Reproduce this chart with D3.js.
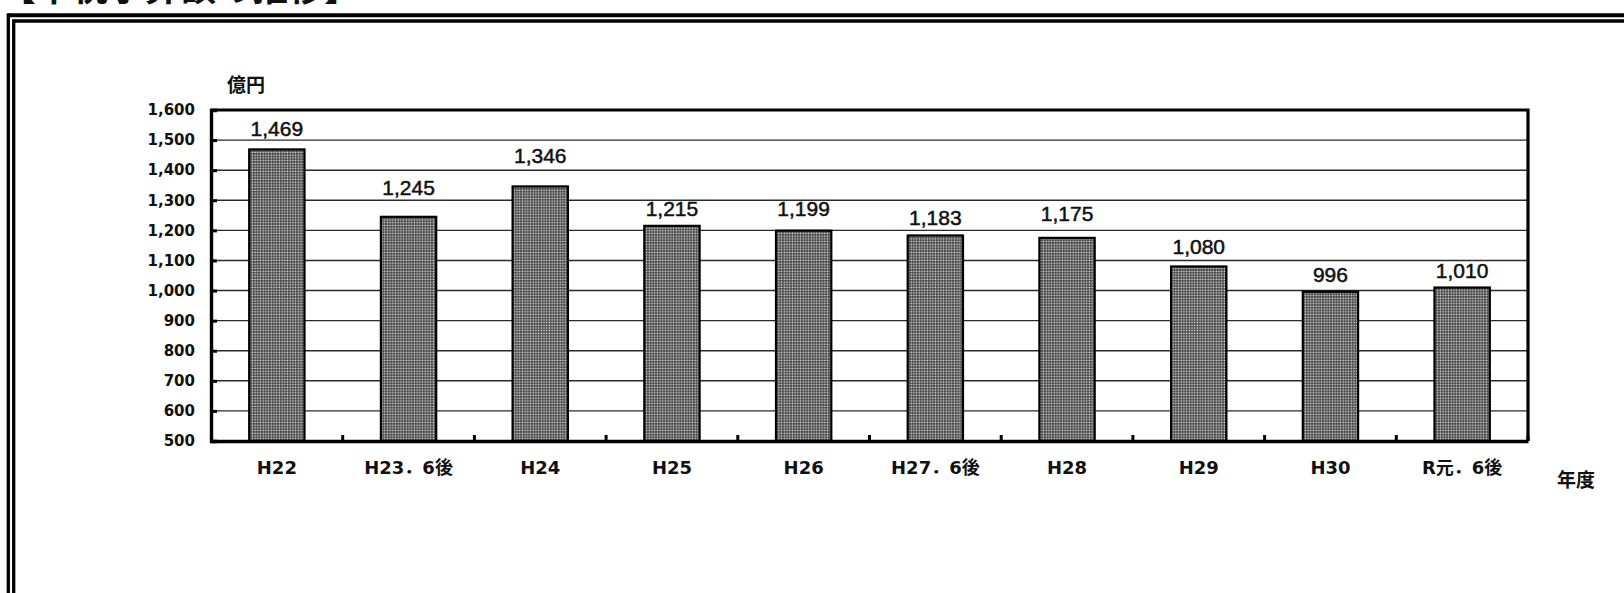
<!DOCTYPE html>
<html>
<head>
<meta charset="utf-8">
<script src="https://cdn.jsdelivr.net/npm/d3@7"></script>
<style>
  body { margin: 0; background: #fff; }
  svg { display: block; }
</style>
</head>
<body>
<div id="chart"></div>
<script>
// data
let categories = ["H22", "H23．6後", "H24", "H25", "H26", "H27．6後", "H28", "H29", "H30", "R元．6後"];
let values = [1469, 1245, 1346, 1215, 1199, 1183, 1175, 1080, 996, 1010];
let yTicks = [500, 600, 700, 800, 900, 1000, 1100, 1200, 1300, 1400, 1500, 1600];

// the value labels were placed by hand in the original, so nudge them a bit (px)
let labelNudge = [-1, -10, -11, 2, -3, 2, -5, 0, 2, 2];

let width = 1624, height = 593;
let plot = {left: 211, right: 1528, top: 110, bottom: 441};

let svg = d3.select("#chart").append("svg")
    .attr("width", width)
    .attr("height", height);

// dotted fill used by the bars
let defs = svg.append("defs");
let pat = defs.append("pattern")
    .attr("id", "dots")
    .attr("patternUnits", "userSpaceOnUse")
    .attr("width", 2.7)
    .attr("height", 2.7);
pat.append("rect").attr("width", 2.7).attr("height", 2.7).attr("fill", "#444");
pat.append("rect").attr("x", 0.6).attr("y", 0.6).attr("width", 1.4).attr("height", 1.4).attr("fill", "#f4f4f4");

// title (cut off at the top of the page, as in the original)
svg.append("text")
    .attr("x", 0)
    .attr("y", 1)
    .attr("font-family", "'Noto Sans CJK JP', sans-serif")
    .attr("font-weight", "bold")
    .attr("font-size", 36)
    .attr("fill", "#111")
    .text("【市税予算額の推移】");

// double frame
let frame = svg.append("g").attr("stroke", "#000").attr("fill", "none");
frame.append("line").attr("x1", 8.3).attr("x2", width + 5).attr("y1", 15.3).attr("y2", 15.3).attr("stroke-width", 4);
frame.append("line").attr("x1", 8.3).attr("x2", 8.3).attr("y1", 13.3).attr("y2", height + 5).attr("stroke-width", 3.3);
frame.append("line").attr("x1", 13.7).attr("x2", width + 5).attr("y1", 20.9).attr("y2", 20.9).attr("stroke-width", 3.5);
frame.append("line").attr("x1", 13.7).attr("x2", 13.7).attr("y1", 19.2).attr("y2", height + 5).attr("stroke-width", 3.3);

let x = d3.scaleBand()
    .domain(categories)
    .range([plot.left, plot.right])
    .paddingInner(0.58)
    .paddingOuter(0.29);

let y = d3.scaleLinear()
    .domain([500, 1600])
    .range([plot.bottom, plot.top]);

// gridlines
svg.append("g")
    .selectAll("line")
    .data(yTicks.slice(1, -1))
    .enter()
    .append("line")
    .attr("x1", plot.left)
    .attr("x2", plot.right)
    .attr("y1", d => y(d))
    .attr("y2", d => y(d))
    .attr("stroke", "#2a2a2a")
    .attr("stroke-width", 1.4);

// bars
svg.append("g")
    .selectAll("rect")
    .data(values)
    .enter()
    .append("rect")
    .attr("x", (d, i) => x(categories[i]))
    .attr("y", d => y(d))
    .attr("width", x.bandwidth())
    .attr("height", d => y(500) - y(d))
    .attr("fill", "url(#dots)")
    .attr("stroke", "#000")
    .attr("stroke-width", 2.2);

// value labels
svg.append("g")
    .selectAll("text")
    .data(values)
    .enter()
    .append("text")
    .attr("x", (d, i) => x(categories[i]) + x.bandwidth() / 2)
    .attr("y", (d, i) => y(d) - 12 + labelNudge[i])
    .attr("text-anchor", "middle")
    .attr("font-family", "'Liberation Sans', Arial, sans-serif")
    .attr("font-size", 21)
    .attr("fill", "#111")
    .attr("stroke", "#111")
    .attr("stroke-width", 0.5)
    .text(d => d3.format(",")(d));

// plot border (top and right)
svg.append("path")
    .attr("d", `M${plot.left},${plot.top}H${plot.right}V${plot.bottom}`)
    .attr("fill", "none")
    .attr("stroke", "#000")
    .attr("stroke-width", 3.2);

// y axis
let yAxis = d3.axisLeft(y)
    .tickValues(yTicks)
    .tickSize(-6)
    .tickPadding(16)
    .tickFormat(d3.format(","));

let gy = svg.append("g")
    .attr("transform", `translate(${plot.left},0)`)
    .call(yAxis);
gy.select(".domain").attr("stroke-width", 3.4);
gy.selectAll(".tick line").attr("stroke-width", 3);
gy.selectAll("text")
    .attr("font-family", "'DejaVu Sans', sans-serif")
    .attr("font-weight", "bold")
    .attr("font-size", 15)
    .attr("fill", "#111");

// x axis (labels under the bars)
let xAxis = d3.axisBottom(x)
    .tickSize(0)
    .tickPadding(20);

let gx = svg.append("g")
    .attr("transform", `translate(0,${plot.bottom})`)
    .call(xAxis);
gx.select(".domain").attr("stroke-width", 3.4);
gx.selectAll("text")
    .attr("font-family", "'DejaVu Sans', 'Noto Sans CJK JP', sans-serif")
    .attr("font-weight", "bold")
    .attr("font-size", 18)
    .attr("fill", "#111");

// small ticks between the categories
svg.append("g")
    .selectAll("line")
    .data(categories)
    .enter()
    .append("line")
    .attr("x1", d => x(d) + x.bandwidth() + (x.step() - x.bandwidth()) / 2)
    .attr("x2", d => x(d) + x.bandwidth() + (x.step() - x.bandwidth()) / 2)
    .attr("y1", plot.bottom)
    .attr("y2", plot.bottom - 6)
    .attr("stroke", "#000")
    .attr("stroke-width", 3);

// unit labels
svg.append("text")
    .attr("x", 227)
    .attr("y", 92)
    .attr("font-family", "'Noto Sans CJK JP', sans-serif")
    .attr("font-weight", "bold")
    .attr("font-size", 19)
    .attr("fill", "#111")
    .text("億円");

svg.append("text")
    .attr("x", 1557)
    .attr("y", 487)
    .attr("font-family", "'Noto Sans CJK JP', sans-serif")
    .attr("font-weight", "bold")
    .attr("font-size", 19)
    .attr("fill", "#111")
    .text("年度");
</script>
</body>
</html>
